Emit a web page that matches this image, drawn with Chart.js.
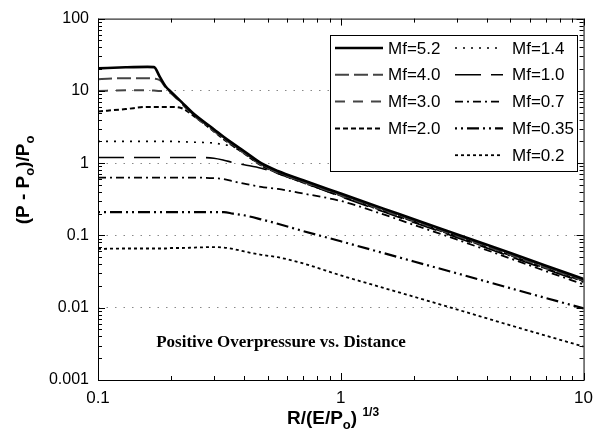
<!DOCTYPE html>
<html>
<head>
<meta charset="utf-8">
<script src="https://cdn.jsdelivr.net/npm/chart.js@4.4.1/dist/chart.umd.min.js"></script>
<style>
  html, body { margin: 0; padding: 0; background: #fff; }
  #wrap { width: 601px; height: 444px; }
</style>
</head>
<body>
<div id="wrap"><canvas id="chart" width="601" height="444"></canvas></div>
<script>
'use strict';

// ── Data ─────────────────────────────────────────────────────
const xDist = [0.1, 0.13, 0.16, 0.17, 0.18, 0.19, 0.2, 0.22, 0.25, 0.3, 0.33, 0.36, 0.4, 0.47, 0.55, 0.7, 1, 1.5, 2, 3, 5, 7, 10];

const mf52 = [20.5, 21.2, 21.5, 21.3, 15.5, 11.5, 9.7, 7.1, 4.7, 2.95, 2.29, 1.86, 1.46, 1.0, 0.78, 0.58, 0.38, 0.235, 0.168, 0.104, 0.057, 0.038, 0.025];
const mf40 = [14.5, 15, 15, 14.8, 14, 11.2, 9.4, 6.9, 4.55, 2.86, 2.22, 1.8, 1.42, 0.97, 0.76, 0.56, 0.37, 0.228, 0.163, 0.101, 0.055, 0.037, 0.0243];
const mf30 = [10, 10.2, 10.2, 10.1, 10, 10, 9.2, 6.75, 4.45, 2.8, 2.18, 1.77, 1.39, 0.95, 0.74, 0.55, 0.36, 0.223, 0.16, 0.099, 0.054, 0.036, 0.0238];
const mf20 = [5.2, 5.6, 6.0, 6.0, 6.0, 6.0, 6.0, 5.8, 4.4, 2.75, 2.13, 1.73, 1.36, 0.93, 0.73, 0.54, 0.355, 0.219, 0.156, 0.097, 0.053, 0.035, 0.0233];
const mf14 = [2.0, 2.0, 2.0, 2.0, 2.0, 2.0, 2.0, 1.98, 1.95, 1.9, 1.8, 1.7, 1.36, 0.93, 0.72, 0.535, 0.35, 0.216, 0.155, 0.096, 0.052, 0.035, 0.023];
const mf10 = [1.2, 1.2, 1.2, 1.2, 1.2, 1.2, 1.2, 1.2, 1.2, 1.17, 1.1, 1.02, 0.95, 0.85, 0.72, 0.54, 0.345, 0.212, 0.151, 0.094, 0.051, 0.034, 0.0225];
const mf07 = [0.63, 0.63, 0.63, 0.63, 0.63, 0.63, 0.63, 0.63, 0.63, 0.62, 0.6, 0.56, 0.52, 0.47, 0.44, 0.38, 0.3, 0.195, 0.14, 0.088, 0.048, 0.032, 0.021];
const mf035 = [0.21, 0.21, 0.21, 0.21, 0.21, 0.21, 0.21, 0.21, 0.21, 0.21, 0.21, 0.2, 0.19, 0.167, 0.145, 0.115, 0.083, 0.057, 0.0436, 0.03, 0.0186, 0.0136, 0.0098];
const mf02 = [0.065, 0.066, 0.066, 0.066, 0.066, 0.066, 0.067, 0.067, 0.068, 0.069, 0.068, 0.065, 0.06, 0.054, 0.05, 0.041, 0.028, 0.0188, 0.0142, 0.0095, 0.0057, 0.0041, 0.0029];

const seriesLabels = ['Mf=5.2', 'Mf=4.0', 'Mf=3.0', 'Mf=2.0', 'Mf=1.4', 'Mf=1.0', 'Mf=0.7', 'Mf=0.35', 'Mf=0.2'];
const seriesValues = [mf52, mf40, mf30, mf20, mf14, mf10, mf07, mf035, mf02];

const yTicks = [0.001, 0.01, 0.1, 1, 10, 100];
const xTicks = [0.1, 1, 10];

// ── Line styles ─────────────────────────────────────────────
const lineStyles = [
  { color: '#000', width: 2.6, dash: [] },
  { color: '#444', width: 2,   dash: [14, 5] },
  { color: '#444', width: 2,   dash: [10, 8] },
  { color: '#000', width: 2,   dash: [5, 3] },
  { color: '#000', width: 1.6, dash: [2, 6] },
  { color: '#000', width: 1.6, dash: [26, 10] },
  { color: '#000', width: 1.8, dash: [8, 4, 2, 4] },
  { color: '#000', width: 2.2, dash: [2, 4, 2, 4, 12, 4] },
  { color: '#000', width: 1.8, dash: [3, 3] }
];

const SANS = '"Liberation Sans", Arial, sans-serif';
const SERIF = '"Liberation Serif", "Times New Roman", serif';

// draws text pieces with sub/superscripts, returns total width
function richWidth(ctx, parts) {
  return parts.reduce((w, p) => { ctx.font = p.font; return w + ctx.measureText(p.t).width; }, 0);
}
function drawRich(ctx, parts, x, y) {
  parts.forEach(p => {
    ctx.font = p.font;
    ctx.fillText(p.t, x, y + (p.dy || 0));
    x += ctx.measureText(p.t).width;
  });
}

const decorations = {
  id: 'decorations',
  afterDraw(chart) {
    const { ctx, chartArea: a, scales: { x, y } } = chart;
    ctx.save();
    ctx.strokeStyle = '#000';
    ctx.lineWidth = 1;

    // frame
    ctx.strokeRect(a.left + 0.5, a.top + 0.5, a.right - a.left, a.bottom - a.top);

    // inward ticks on all four sides
    ctx.beginPath();
    for (let e = -3; e <= 2; e++) {
      for (let k = 1; k <= 9; k++) {
        const v = k * Math.pow(10, e);
        if (v > 100.0001) break;
        const py = Math.round(y.getPixelForValue(v)) + 0.5;
        const len = k === 1 ? 7 : 4;
        ctx.moveTo(a.left, py); ctx.lineTo(a.left + len, py);
        ctx.moveTo(a.right, py); ctx.lineTo(a.right - len, py);
      }
    }
    for (let e = -1; e <= 1; e++) {
      for (let k = 1; k <= 9; k++) {
        const v = k * Math.pow(10, e);
        if (v > 10.0001) break;
        const px = Math.round(x.getPixelForValue(v)) + 0.5;
        const len = k === 1 ? 7 : 4;
        ctx.moveTo(px, a.bottom); ctx.lineTo(px, a.bottom - len);
        ctx.moveTo(px, a.top); ctx.lineTo(px, a.top + len);
      }
    }
    ctx.stroke();

    ctx.fillStyle = '#000';
    ctx.textBaseline = 'alphabetic';
    ctx.textAlign = 'left';

    // y axis title
    const yTitle = [
      { t: '(P - P', font: `bold 19px ${SANS}` },
      { t: 'o', font: `bold 13px ${SANS}`, dy: 5 },
      { t: ')/P', font: `bold 19px ${SANS}` },
      { t: 'o', font: `bold 13px ${SANS}`, dy: 5 }
    ];
    ctx.save();
    ctx.translate(29, 180);
    ctx.rotate(-Math.PI / 2);
    drawRich(ctx, yTitle, -richWidth(ctx, yTitle) / 2, 0);
    ctx.restore();

    // x axis title
    const xTitle = [
      { t: 'R/(E/P', font: `bold 19px ${SANS}` },
      { t: 'o', font: `bold 13px ${SANS}`, dy: 5 },
      { t: ') ', font: `bold 19px ${SANS}` },
      { t: '1/3', font: `bold 12px ${SANS}`, dy: -8 }
    ];
    drawRich(ctx, xTitle, 333 - richWidth(ctx, xTitle) / 2, 424);

    // annotation
    ctx.font = `bold 17px ${SERIF}`;
    ctx.textAlign = 'center';
    ctx.fillText('Positive Overpressure vs. Distance', 281, 347);

    // legend box
    const box = { left: 330, top: 35, right: 577, bottom: 171 };
    ctx.fillStyle = '#fff';
    ctx.fillRect(box.left, box.top, box.right - box.left, box.bottom - box.top);
    ctx.strokeStyle = '#000';
    ctx.strokeRect(box.left + 0.5, box.top + 0.5, box.right - box.left, box.bottom - box.top);

    const cols = [{ x0: 335, x1: 383, tx: 388 }, { x0: 455, x1: 503, tx: 512 }];
    ctx.textAlign = 'left';
    ctx.textBaseline = 'middle';
    ctx.font = `17px ${SANS}`;
    chart.data.datasets.forEach((ds, i) => {
      const col = cols[i < 4 ? 0 : 1];
      const row = i < 4 ? i : i - 4;
      const ly = 48 + row * 26.8;
      ctx.beginPath();
      ctx.strokeStyle = ds.borderColor;
      ctx.lineWidth = ds.borderWidth;
      ctx.setLineDash(ds.borderDash);
      ctx.moveTo(col.x0, ly); ctx.lineTo(col.x1, ly);
      ctx.stroke();
      ctx.setLineDash([]);
      ctx.fillStyle = '#000';
      ctx.fillText(ds.label, col.tx, ly + 1);
    });
    ctx.restore();
  }
};

const datasets = seriesLabels.map((label, i) => ({
  label,
  data: xDist.map((xv, j) => ({ x: xv, y: seriesValues[i][j] })),
  borderColor: lineStyles[i].color,
  borderWidth: lineStyles[i].width,
  borderDash: lineStyles[i].dash,
  borderCapStyle: 'butt',
  pointRadius: 0,
  fill: false,
  cubicInterpolationMode: 'monotone'
}));

new Chart(document.getElementById('chart').getContext('2d'), {
  type: 'line',
  data: { datasets },
  plugins: [decorations],
  options: {
    responsive: false,
    animation: false,
    devicePixelRatio: 1,
    layout: { padding: { top: 16, right: 12, left: 0, bottom: 0 } },
    plugins: { legend: { display: false }, tooltip: { enabled: false } },
    scales: {
      x: {
        type: 'logarithmic', min: 0.1, max: 10,
        afterBuildTicks: s => { s.ticks = xTicks.map(v => ({ value: v })); },
        afterFit: s => { s.height = 64; },
        border: { display: false },
        grid: { display: false, drawTicks: false },
        ticks: { color: '#000', padding: 8, maxRotation: 0, font: { family: SANS, size: 17 }, callback: v => String(v) }
      },
      y: {
        type: 'logarithmic', min: 0.001, max: 100,
        afterBuildTicks: s => { s.ticks = yTicks.map(v => ({ value: v })); },
        afterFit: s => { s.width = 98; },
        border: { display: false, dash: [1.5, 7] },
        grid: {
          drawTicks: false,
          color: c => (c.tick && c.tick.value > 0.001 && c.tick.value < 100) ? '#888' : 'rgba(0,0,0,0)'
        },
        ticks: { color: '#000', padding: 9, font: { family: SANS, size: 16 }, callback: v => String(v) }
      }
    }
  }
});
</script>
</body>
</html>
